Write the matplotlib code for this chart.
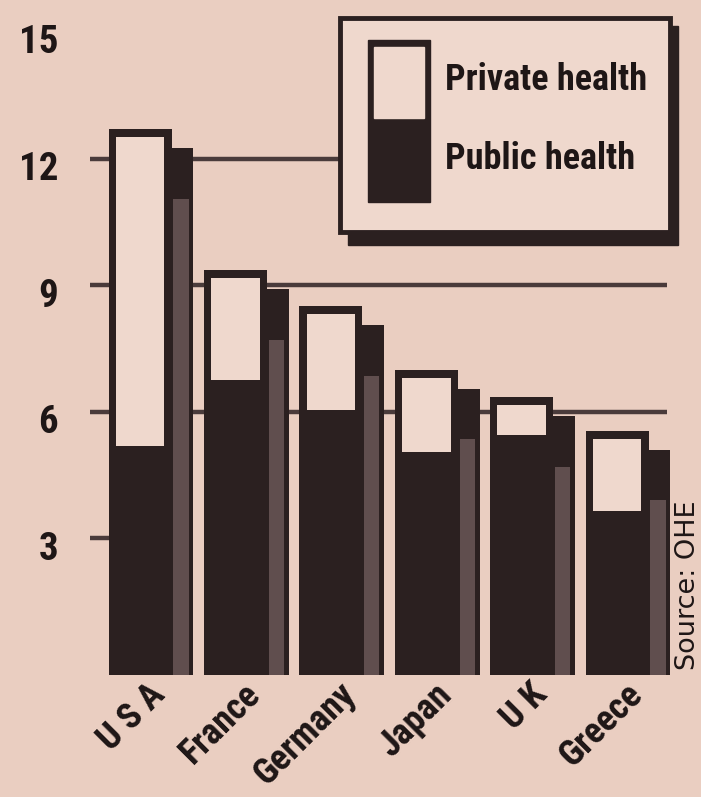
import numpy as np
import matplotlib.pyplot as plt
from matplotlib.patches import Rectangle

# health spending, % of GDP
countries = ['U S A', 'France', 'Germany', 'Japan', 'U K', 'Greece']
total_health = [12.7, 9.35, 8.5, 7.0, 6.35, 5.55]
public_health = [5.2, 6.75, 6.05, 5.05, 5.45, 3.65]
y_ticks = [3, 6, 9, 12, 15]
grid_levels = [6, 9, 12]

BG = '#EACEC1'
LIGHT = '#EFD8CD'
DARK = '#2B2020'
HALF = '#604E4E'
GRID = '#4A3B3B'
INK = '#1E1616'
FONT = ['Roboto Condensed', 'DejaVu Sans']

fig = plt.figure(figsize=(7.01, 7.97), dpi=100, facecolor=BG)
ax = fig.add_axes([70 / 701, 122 / 797, 631 / 701, 675 / 797])
ax.set_xlim(-0.734, 5.88)
ax.set_ylim(-0.237, 15.758)
ax.axis('off')

x = np.arange(len(countries))
total = np.array(total_health)
public = np.array(public_health)

base = -0.237     # bars sit a little below the zero line in the original
w = 0.66          # front bar width
dx, dy = 0.23, 0.45   # 3-D shadow offset

# gridlines / ticks
ax.hlines(grid_levels, -0.524, 5.524, color=GRID, lw=3.2, zorder=1)
ax.hlines(3, -0.524, -0.3, color=GRID, lw=3.2, zorder=1)

# shadow behind each bar
ax.bar(x + dx, total - dy - base, width=w, bottom=base, color=DARK, zorder=2)
ax.bar(x + w / 2 + 0.1, total - dy - 1.2 - base, width=0.16, bottom=base,
       color=HALF, zorder=2.5)

# front bars: dark = public, light window = private
ax.bar(x, total - base, width=w, bottom=base, color=DARK, zorder=3)
ax.bar(x, total - 0.19 - public, width=w - 0.15, bottom=public,
       color=LIGHT, zorder=4)

# y labels
for v in y_ticks:
    ax.annotate(str(v), xy=(0, v), xycoords=('axes fraction', 'data'),
                xytext=(-12, -11), textcoords='offset pixels',
                ha='right', va='center', fontsize=28, fontweight='bold',
                family=FONT, color=INK)

# x labels, rotated, ending just right of each bar centre
for xi, name in zip(x, countries):
    ax.text(xi + 0.28, -0.74, name, rotation=45, rotation_mode='anchor',
            ha='right', va='baseline', fontsize=26, fontweight='bold',
            family=FONT, color=INK, clip_on=False)

# legend drawn in pixel coordinates
lg = fig.add_axes([0, 0, 1, 1], zorder=10)
lg.set_xlim(0, 701)
lg.set_ylim(797, 0)
lg.axis('off')
lg.add_patch(Rectangle((348, 26), 330, 219, color=DARK))
lg.add_patch(Rectangle((340, 18), 330, 214, facecolor=LIGHT,
                       edgecolor=DARK, lw=3.5))
lg.add_patch(Rectangle((368, 40), 62, 162, color=DARK))
lg.add_patch(Rectangle((374, 47), 50, 71, color=LIGHT))
lg.text(445, 80, 'Private health', ha='left', va='center', fontsize=26,
        fontweight='bold', family=FONT, color=INK)
lg.text(445, 159, 'Public health', ha='left', va='center', fontsize=26,
        fontweight='bold', family=FONT, color=INK)

fig.text(688 / 701, (797 - 670) / 797, 'Source: OHE', rotation=90,
         ha='center', va='bottom', fontsize=19.5, family='DejaVu Sans',
         color=INK)

fig.savefig('out.png', dpi=100, facecolor=BG)
